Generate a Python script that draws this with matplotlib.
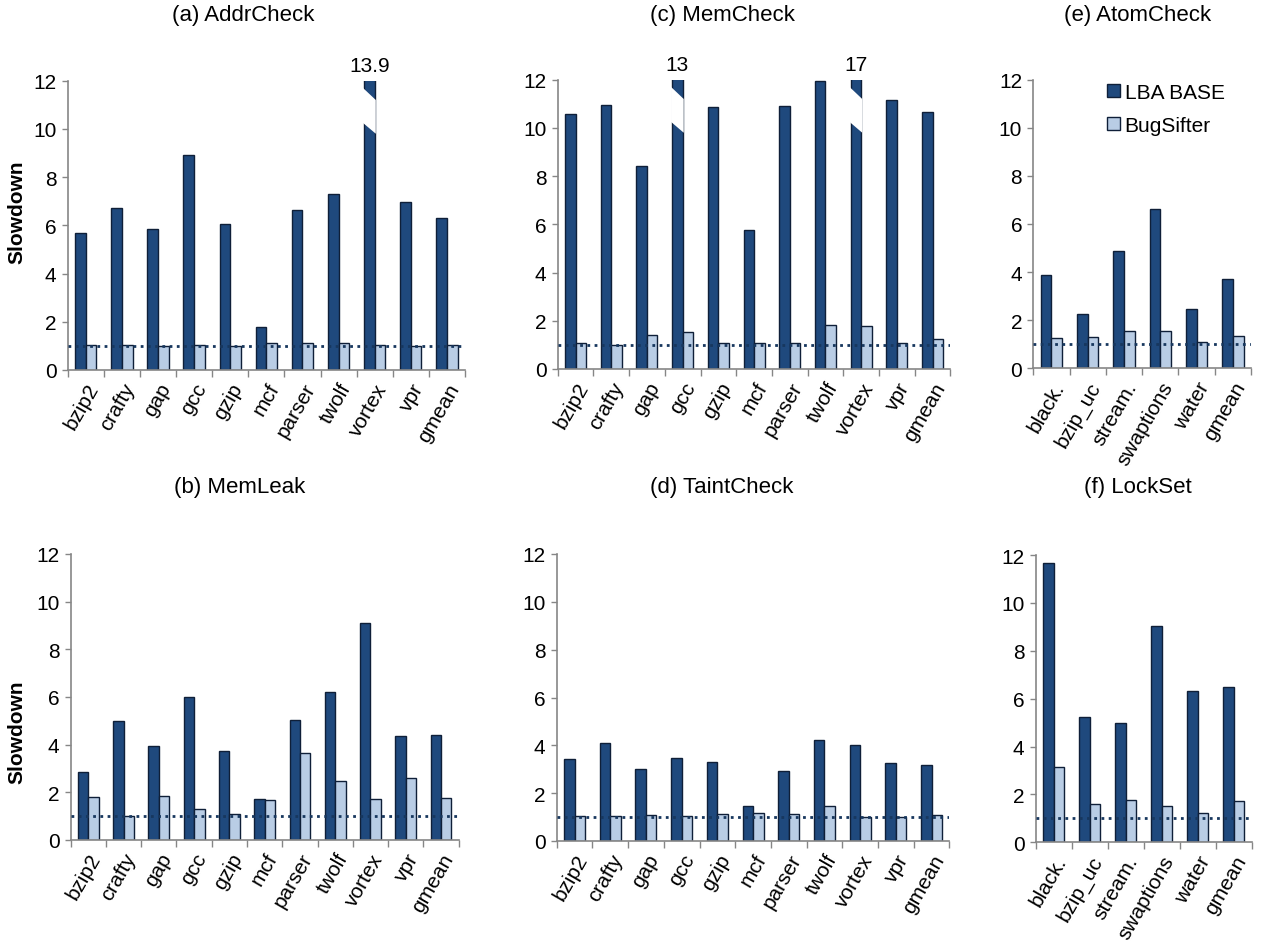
import matplotlib
matplotlib.use("Agg")
import matplotlib.pyplot as plt
from matplotlib.patches import Polygon, Patch

plt.rcParams['font.family'] = ['Liberation Sans', 'DejaVu Sans']

# ---------------- data ----------------
spec = ["bzip2", "crafty", "gap", "gcc", "gzip", "mcf", "parser", "twolf", "vortex", "vpr", "gmean"]
parsec = ["black.", "bzip_uc", "stream.", "swaptions", "water", "gmean"]

addr_base = [5.67, 6.71, 5.85, 8.91, 6.07, 1.80, 6.65, 7.29, 13.9, 6.98, 6.32]
addr_bs = [1.05, 1.05, 1.00, 1.05, 1.00, 1.12, 1.12, 1.12, 1.05, 1.00, 1.05]

leak_base = [2.85, 5.01, 3.93, 5.99, 3.73, 1.71, 5.03, 6.20, 9.12, 4.35, 4.39]
leak_bs = [1.79, 0.99, 1.85, 1.30, 1.10, 1.68, 3.66, 2.46, 1.71, 2.61, 1.78]

mem_base = [10.56, 10.94, 8.42, 13, 10.85, 5.77, 10.90, 11.93, 17, 11.15, 10.68]
mem_bs = [1.07, 1.01, 1.40, 1.54, 1.08, 1.07, 1.08, 1.83, 1.77, 1.08, 1.26]

taint_base = [3.44, 4.08, 3.00, 3.46, 3.29, 1.45, 2.91, 4.21, 4.03, 3.26, 3.19]
taint_bs = [1.03, 1.05, 1.07, 1.05, 1.14, 1.18, 1.11, 1.48, 1.01, 1.01, 1.09]

atom_base = [3.87, 2.27, 4.89, 6.64, 2.47, 3.71]
atom_bs = [1.25, 1.29, 1.54, 1.56, 1.08, 1.33]

lock_base = [11.67, 5.22, 5.00, 9.05, 6.32, 6.50]
lock_bs = [3.15, 1.59, 1.77, 1.50, 1.24, 1.74]

# ---------------- style ----------------
W, H = 1262, 945
dark = "#1f497d"
light = "#b9cde5"
edge = "#0f1f38"
grey = "#868686"
line_c = "#17375e"
bw = 0.295
ymax = 12
fs = 15

fig = plt.figure(figsize=(W / 100, H / 100), dpi=100)


def make_axes(l, r, t, b):
    return fig.add_axes([l / W, 1 - b / H, (r - l) / W, (b - t) / H])


def panel(ax, names, base, bs, ylabel_xy=None):
    n = len(names)
    cx = [i + 0.5 for i in range(n)]
    ax.bar([c - bw / 2 for c in cx], base, bw, color=dark, edgecolor=edge, linewidth=1, zorder=2)
    ax.bar([c + bw / 2 for c in cx], bs, bw, color=light, edgecolor=edge, linewidth=1, zorder=2)
    ax.axhline(1.0, color=line_c, linewidth=2, linestyle=(0, (1, 1.6)), zorder=3)

    # bars taller than the axis get a slanted break and their value on top
    for c, v in zip(cx, base):
        if v > ymax:
            xl, xr = c - bw - 0.03, c + 0.03
            band = Polygon([(xl, 11.7), (xr, 11.2), (xr, 9.8), (xl, 10.25)],
                           closed=True, facecolor="white", edgecolor="none", zorder=4)
            ax.add_patch(band)
            ax.text(c - bw / 2, ymax + 0.62, "%g" % v, ha="center", va="center",
                    fontsize=fs, clip_on=False)

    ax.set_xlim(0, n)
    ax.set_ylim(0, ymax)
    ax.set_yticks(range(0, 13, 2))
    ax.set_xticks(cx)
    ax.set_xticklabels(names, rotation=60, ha="right", rotation_mode="anchor", fontsize=fs)
    ax.set_xticks(range(n + 1), minor=True)
    ax.tick_params(axis="x", which="major", length=0, pad=7)
    ax.tick_params(axis="x", which="minor", length=5, color=grey, width=1)
    ax.tick_params(axis="y", length=4, color=grey, width=1, labelsize=fs, pad=4)
    for s in ["top", "right"]:
        ax.spines[s].set_visible(False)
    for s in ["left", "bottom"]:
        ax.spines[s].set_color(grey)
        ax.spines[s].set_linewidth(1.2)
    if ylabel_xy is not None:
        ax.set_ylabel("Slowdown", fontsize=fs, fontweight="bold")
        ax.yaxis.set_label_coords(*ylabel_xy)


ax_a = make_axes(67.7, 465, 81.7, 371)
ax_c = make_axes(557.7, 950.4, 80.7, 370)
ax_e = make_axes(1033.3, 1251, 80.7, 369.3)
ax_b = make_axes(70.7, 458.6, 555, 841)
ax_d = make_axes(556.7, 949.4, 555, 842)
ax_f = make_axes(1035.7, 1251.7, 556, 843.3)

panel(ax_a, spec, addr_base, addr_bs, ylabel_xy=(-0.103, 0.55))
panel(ax_c, spec, mem_base, mem_bs)
panel(ax_e, parsec, atom_base, atom_bs)
panel(ax_b, spec, leak_base, leak_bs, ylabel_xy=(-0.113, 0.38))
panel(ax_d, spec, taint_base, taint_bs)
panel(ax_f, parsec, lock_base, lock_bs)

# panel titles
titles = [("(a) AddrCheck", 243, 15), ("(c) MemCheck", 722, 15), ("(e) AtomCheck", 1138, 15),
          ("(b) MemLeak", 240, 488), ("(d) TaintCheck", 722, 488), ("(f) LockSet", 1138, 488)]
for t, x, y in titles:
    fig.text(x / W, 1 - y / H, t, ha="center", va="center", fontsize=16)

handles = [Patch(facecolor=dark, edgecolor=edge, label="LBA BASE"),
           Patch(facecolor=light, edgecolor=edge, label="BugSifter")]
ax_e.legend(handles=handles, loc="upper left", bbox_to_anchor=(1107 / W, 1 - 84 / H),
            bbox_transform=fig.transFigure, frameon=False, fontsize=fs,
            handlelength=0.6, handleheight=0.6, handletextpad=0.25,
            labelspacing=0.65, borderpad=0, borderaxespad=0)

plt.savefig("out.png", dpi=100)
